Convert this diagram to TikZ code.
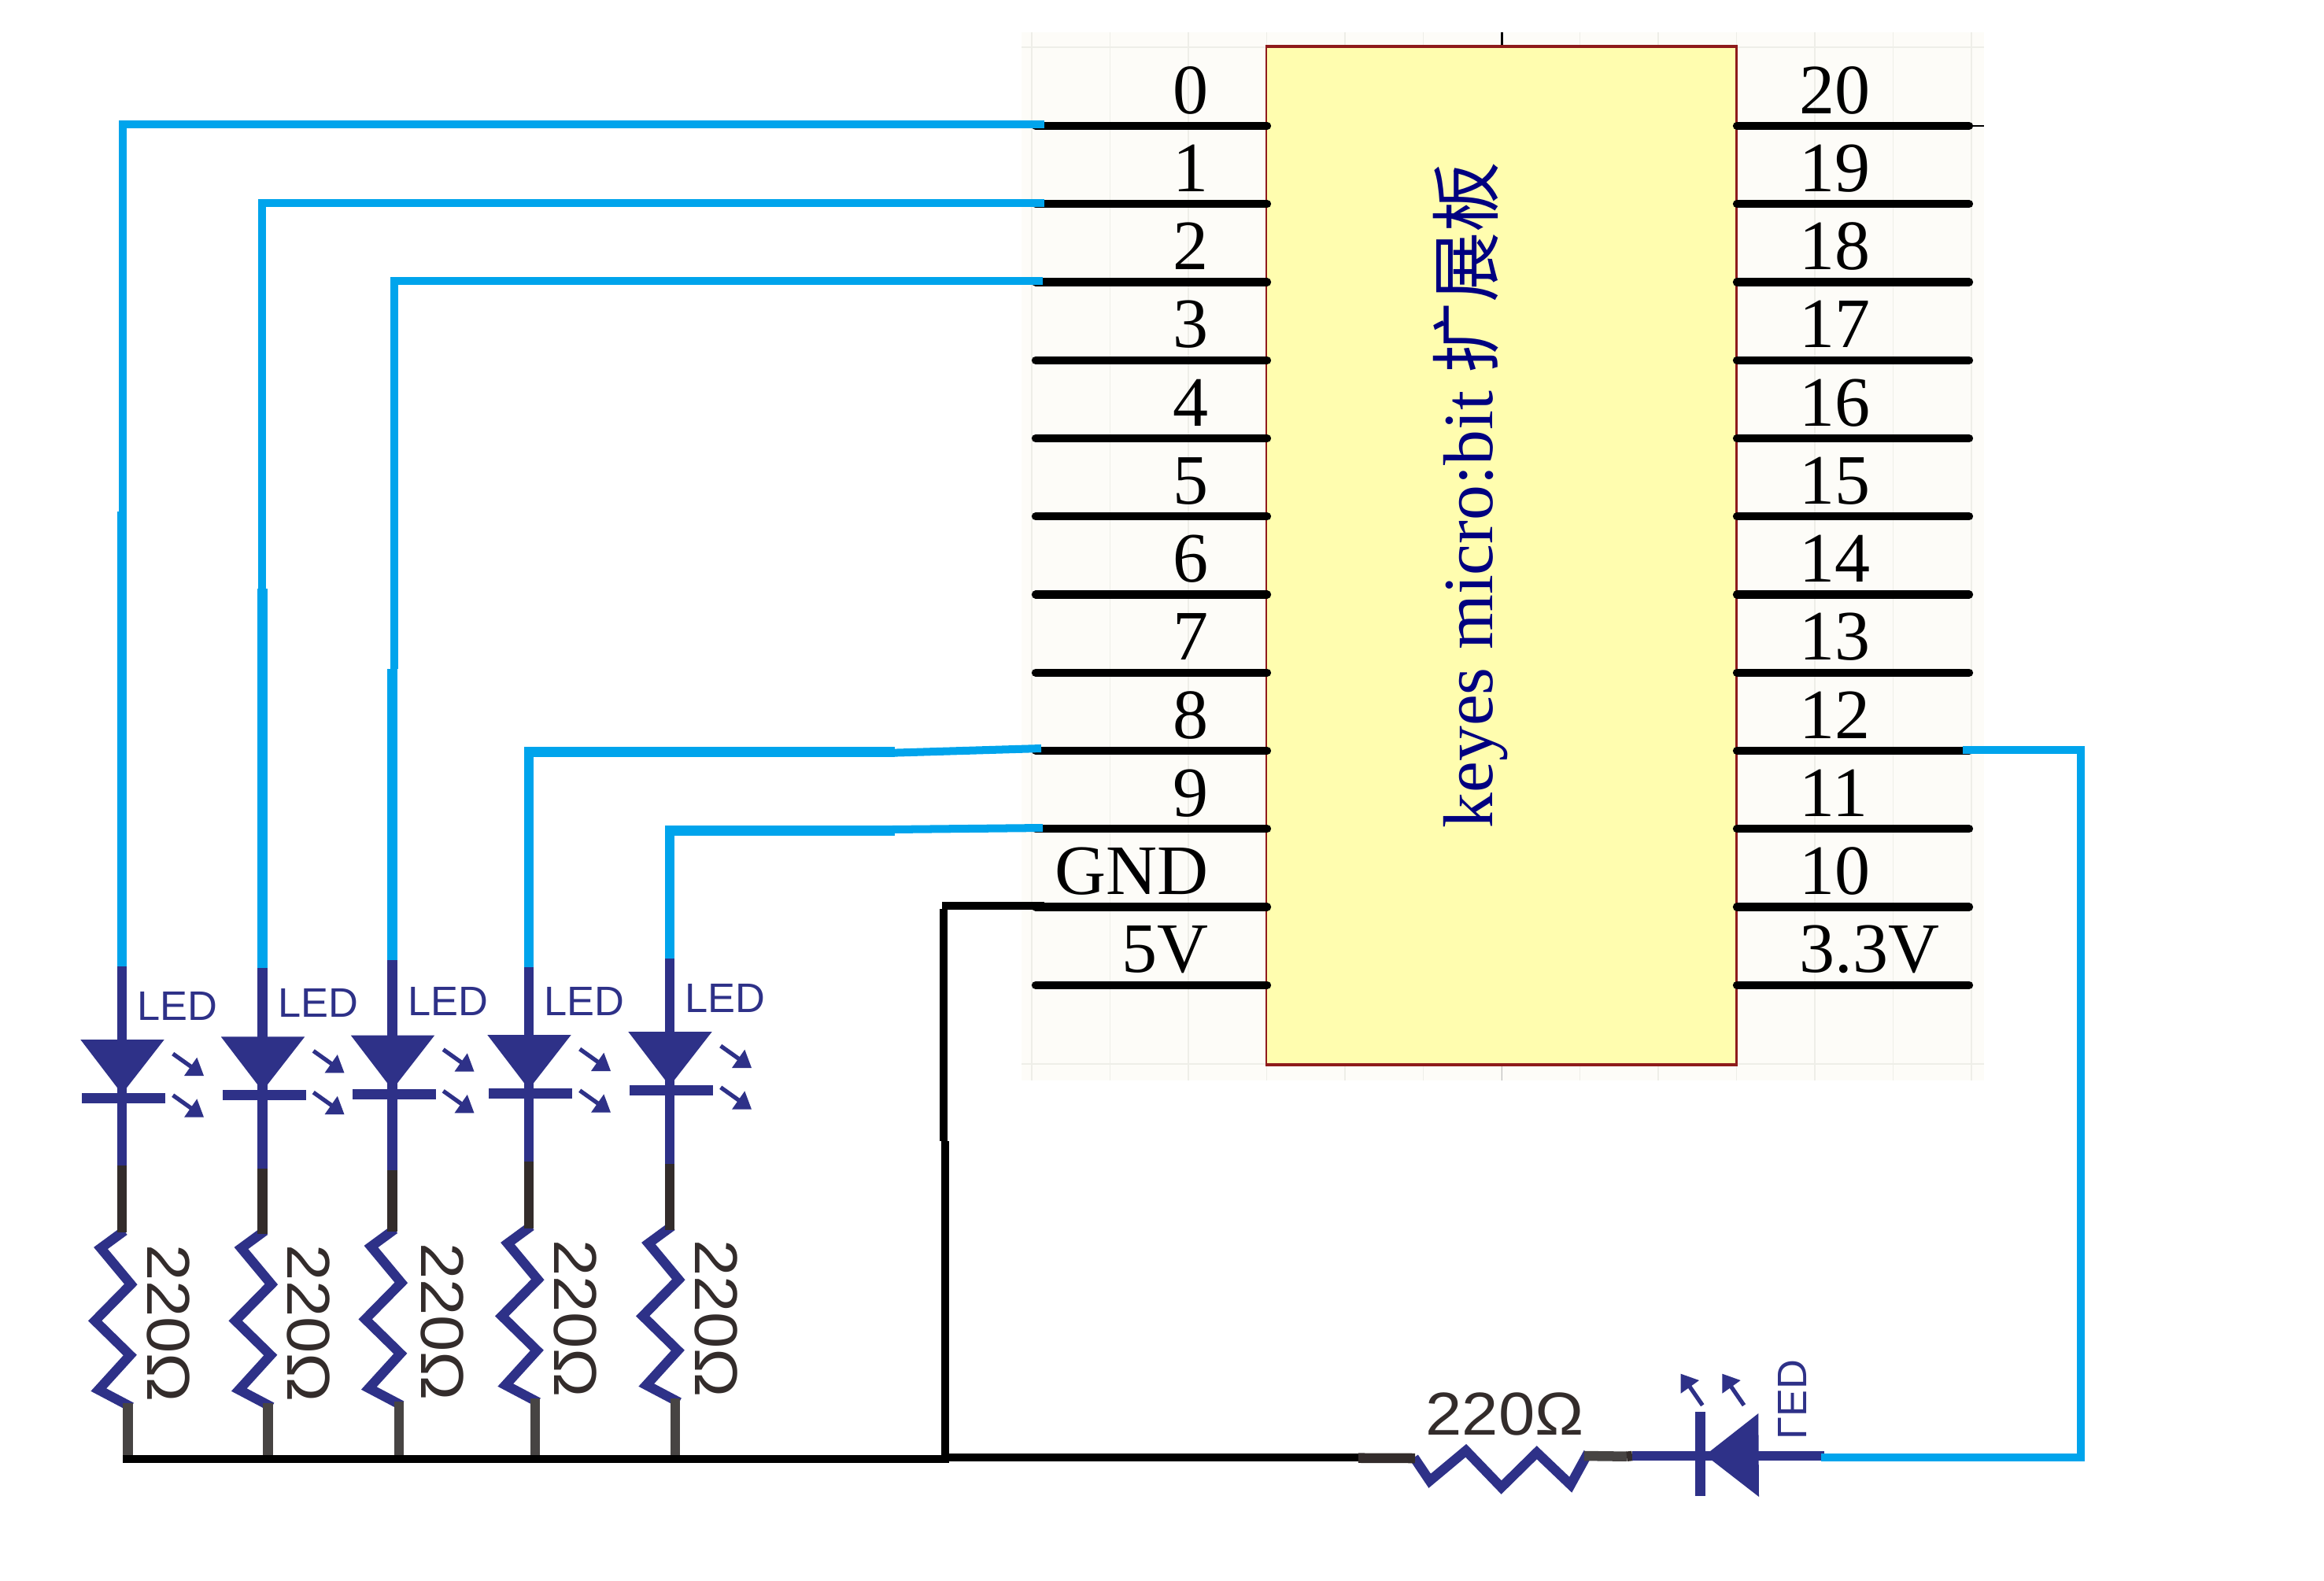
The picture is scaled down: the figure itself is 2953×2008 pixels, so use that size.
\documentclass[tikz,border=0pt]{standalone}
\usepackage{fontspec}
\setmainfont{Liberation Serif}
\setsansfont{Liberation Sans}
\newfontfamily\cjk{Noto Sans CJK SC}
\newfontfamily\ohmfont[FakeStretch=1.08]{Liberation Sans}
\usepackage{tikz}
\definecolor{ledblue}{HTML}{00A4EC}
\definecolor{lednavy}{HTML}{2E3188}
\definecolor{leddark}{HTML}{332C2B}
\definecolor{ledgrey}{HTML}{474443}
\definecolor{chipfill}{HTML}{FFFDAF}
\definecolor{chipedge}{HTML}{8E1B1B}
\definecolor{sheetbg}{HTML}{FDFCF8}
\definecolor{sheetgrid}{HTML}{EEEEE8}
\tikzstyle{board}=[rectangle, draw=chipedge, fill=chipfill, line width=0.7pt,
                   minimum width=5.975cm, minimum height=12.92cm, inner sep=0pt]
\tikzstyle{pinline}=[draw=black, line width=2.95pt, line cap=round]
\tikzstyle{pinlabel}=[inner sep=0pt, font=\fontsize{25.6}{30}\selectfont]
\tikzstyle{wireblue}=[draw=ledblue, line width=3.56pt]
\tikzstyle{wirethin}=[draw=ledblue, line width=2.85pt]
\tikzstyle{wireblack}=[draw=black, line width=2.85pt]
\tikzstyle{wirenavy}=[draw=lednavy, line width=3.56pt]
\tikzstyle{wiredark}=[draw=leddark, line width=3.56pt]
\tikzstyle{wiregrey}=[draw=ledgrey, line width=3.56pt]
\tikzstyle{zigzag}=[draw=lednavy, line width=3.5pt, miter limit=10]
\tikzstyle{raytail}=[draw=lednavy, line width=1.5pt]
\tikzstyle{ledlabel}=[inner sep=0pt, text=lednavy, font=\sffamily\fontsize{14.9}{17}\selectfont]
\tikzstyle{ohmlabel}=[inner sep=0pt, text=leddark, font=\ohmfont\fontsize{21.9}{26}\selectfont]

\begin{document}
\begin{tikzpicture}[x=0.01cm, y=-0.01cm]
  \useasboundingbox (0,0) rectangle (2953,2008);
  % sheet behind the board
  \fill[sheetbg] (1298,41) rectangle (2521,1373);
  \foreach \k in {0,...,12}
    \draw[sheetgrid, line width=0.45pt] (1311+99.5*\k,41) -- (1311+99.5*\k,1373);
  \draw[sheetgrid, line width=0.6pt] (1298,60) -- (2521,60);
  \draw[sheetgrid, line width=0.6pt] (1298,1352) -- (2521,1352);
  \coordinate (tickA) at (1908.5,41);
  \coordinate (tickB) at (1908.5,60);
  \coordinate (tickC) at (1908.5,1352);
  \coordinate (tickD) at (1908.5,1373);
  \draw[line width=0.6pt] (tickA) -- (tickB);
  \draw[gray!50, line width=0.4pt] (tickC) -- (tickD);

  \node [board] at (1907.75,706) (chip) {};
  \draw[chipedge, line width=1pt] (chip.north west) -- (chip.north east);
  \draw[chipedge, line width=1pt] (chip.south west) -- (chip.south east);
  \node [rotate=90, anchor=base west, inner sep=0pt, text={rgb,255:red,0;green,0;blue,128},
         font=\fontsize{25.5}{30}\selectfont] at (1896,1053) (chipname) {keyes micro:bit {\cjk 扩展板}};

  % pins
  \foreach \lab [count=\i from 0] in {0,1,2,3,4,5,6,7,8,9,GND,5V} {
    \pgfmathsetmacro\py{160+99.25*\i}
    \coordinate (pL\i) at (1316,\py);
    \coordinate (cL\i) at (1610,\py);
    \path [pinline] (pL\i) -- (cL\i);
    \node [pinlabel, anchor=base east] at (1536,\py-16) (nL\i) {\lab};
  }
  \foreach \lab [count=\i from 0] in {20,19,18,17,16,15,14,13,12,11,10,3.3V} {
    \pgfmathsetmacro\py{160+99.25*\i}
    \coordinate (pR\i) at (2502,\py);
    \coordinate (cR\i) at (2207,\py);
    \path [pinline] (cR\i) -- (pR\i);
    \node [pinlabel, anchor=base west] at (2286,\py-16) (nR\i) {\lab};
  }
  \coordinate (tickE) at (2521,160);
  \draw[line width=0.4pt] (pR0) -- (tickE);

  % five leds with their resistors
  \foreach \n/\xx/\tri/\yin/\ynavy/\ydark/\res/\xgrey/\tdx in
     {1/155/1321/1228/1481/1566/6/162.3/32,
      2/333.5/1317.4/1230/1485/1568/6/340.6/32,
      3/498.5/1315.6/1220/1486.6/1565/4/507/37,
      4/672/1315/1229/1476/1561/0/680/32,
      5/851/1311/1218/1479/1563/0/858/32} {
    \coordinate (in\n)   at (\xx,\yin);
    \coordinate (mid\n)  at (\xx,\ynavy);
    \coordinate (rtop\n) at (\xx,\ydark);
    \coordinate (rbot\n) at (\xgrey,\res+1777);
    \coordinate (gnd\n)  at (\xgrey,1854);
    \path [wirenavy] (in\n) -- (mid\n);
    \fill[lednavy] (\xx-52.7,\tri) -- (\xx+53.7,\tri) -- (\xx,\tri+69) -- cycle;
    \fill[lednavy] (\xx-51,\tri+68) rectangle (\xx+55,\tri+81);
    \foreach \r in {0,52.7} {
      \draw[raytail] (\xx+64.7,\tri+18+\r) -- (\xx+90,\tri+36+\r);
      \fill[lednavy] (\xx+104,\tri+46+\r) -- (\xx+95.3,\tri+22.7+\r) -- (\xx+79,\tri+46+\r) -- cycle;
    }
    \node [ledlabel, anchor=base west] at (\xx+19,\tri-25) (led\n) {LED};
    \path [zigzag] (\xx+3,\res+1558) -- (\xx-27,\res+1580) -- (\xx+11.3,\res+1626) -- (\xx-34.3,\res+1672.3)
        -- (\xx+10.3,\res+1716) -- (\xx-29.7,\res+1760) -- (\xx+12,\res+1782);
    \path [wiredark] (mid\n) -- (rtop\n);
    \path [wiregrey] (rbot\n) -- (gnd\n);
    \node [ohmlabel, rotate=-90, anchor=base west] at (\xx+\tdx,\res+1574.5) (ohm\n) {220Ω};
  }

  % signal wires
  \coordinate (sL0) at (1327,158);
  \coordinate (sL1) at (1327,258);
  \coordinate (sL2) at (1325,357);
  \coordinate (jA) at (156,650);
  \coordinate (jA2) at (155,650);
  \coordinate (jB) at (333,748);
  \coordinate (jB2) at (333.5,748);
  \coordinate (jC) at (501,850);
  \coordinate (jC2) at (498.5,850);
  \path [wirethin] (sL0) -| (jA);
  \path [wireblue] (jA2) -- (in1);
  \path [wirethin] (sL1) -| (jB);
  \path [wireblue] (jB2) -- (in2);
  \path [wirethin] (sL2) -| (jC);
  \path [wireblue] (jC2) -- (in3);
  \coordinate (jD) at (1137,955.3);
  \coordinate (jD1) at (1133,956.7);
  \coordinate (sL8) at (1323,951);
  \coordinate (jE) at (1137,1055.7);
  \coordinate (jE1) at (1133,1054);
  \coordinate (sL9) at (1325,1052);
  \path [wireblue] (jD) -| (in4);
  \path [wirethin] (jD1) -- (sL8);
  \path [wireblue] (jE) -| (in5);
  \path [wirethin] (jE1) -- (sL9);

  % ground
  \coordinate (sGND) at (1327,1151);
  \coordinate (gA) at (1197,1151);
  \coordinate (gB) at (1199,1155);
  \coordinate (gC) at (1199,1450);
  \coordinate (gD) at (1201,1450);
  \coordinate (gE) at (1201,1859);
  \coordinate (busL) at (156,1854);
  \coordinate (busM) at (1206,1854);
  \coordinate (busN) at (1201,1852);
  \coordinate (busR) at (1733,1852);
  \path [wireblack] (gA) -- (sGND);
  \path [wireblack] (gB) -- (gC);
  \path [wireblack] (gD) -- (gE);
  \path [wireblack] (busL) -- (busM);
  \path [wireblack] (busN) -- (busR);

  % led on the right
  \coordinate (dkA) at (1726,1852.7);
  \coordinate (dkB) at (1798,1853);
  \coordinate (gyA) at (2013,1850);
  \coordinate (gyB) at (2067,1850.7);
  \coordinate (dkC) at (2074,1850);
  \coordinate (nvB) at (2318,1850);
  \coordinate (barA) at (2160.7,1794);
  \coordinate (barB) at (2160.7,1901);
  \coordinate (outA) at (2314,1852);
  \coordinate (outB) at (2644,953);
  \coordinate (sR8) at (2494,953);
  \path [zigzag] (1796.7,1852) -- (1816.7,1881.7) -- (1862.7,1843.3) -- (1907.7,1890) -- (1952.7,1845.7)
      -- (1995.7,1886.7) -- (2018,1846);
  \path [wiredark] (dkA) -- (dkB);
  \path [wiregrey] (gyA) -- (gyB);
  \path [wiredark] (gyB) -- (dkC);
  \path [wirenavy] (dkC) -- (nvB);
  \path [wirenavy] (barA) -- (barB);
  \fill[lednavy] (2166.7,1849) -- (2234.3,1796) -- (2235,1902) -- cycle;
  \foreach \r in {0,52.7} {
    \draw[raytail] (2163.3+\r,1785.7) -- (2147+\r,1762);
    \fill[lednavy] (2135.7+\r,1745.7) -- (2159+\r,1754) -- (2135.7+\r,1770.7) -- cycle;
  }
  \node [ledlabel, rotate=90, yscale=-1, anchor=base west] at (2259,1830) (ledR) {LED};
  \node [ohmlabel, anchor=base west] at (1811,1823) (ohmR) {220Ω};
  \path [wirethin] (sR8) -| (outA -| outB) -- (outA);
\end{tikzpicture}
\end{document}
